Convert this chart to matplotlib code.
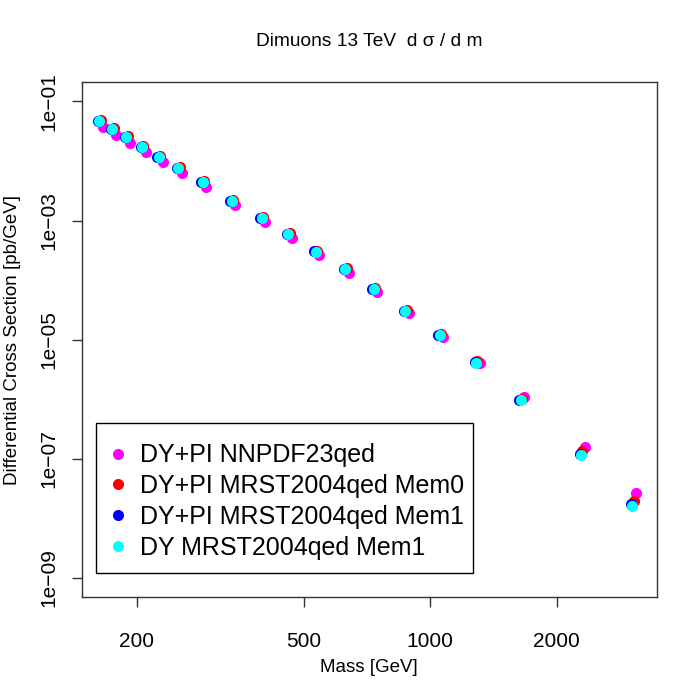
import numpy as np
import matplotlib
matplotlib.use('Agg')
import matplotlib.pyplot as plt
from matplotlib.patches import Rectangle

plt.rcParams['font.family'] = ['Liberation Sans', 'DejaVu Sans']

# bin centres in GeV
mass = [163, 175, 189, 206, 226, 251, 287, 337, 397, 459, 534, 627, 734,
        872, 1054, 1285, 1641, 2285, 3027]

# d sigma / d m  [pb/GeV]
nnpdf = [3.75e-2, 2.76e-2, 2.03e-2, 1.41e-2, 9.58e-3, 6.19e-3, 3.61e-3,
         1.84e-3, 9.32e-4, 5.09e-4, 2.60e-4, 1.30e-4, 6.23e-5, 2.77e-5,
         1.13e-5, 4.00e-6, 1.08e-6, 1.57e-7, 2.71e-8]
mem0 = [4.86e-2, 3.53e-2, 2.59e-2, 1.80e-2, 1.22e-2, 7.81e-3, 4.56e-3,
        2.24e-3, 1.14e-3, 6.18e-4, 3.12e-4, 1.58e-4, 7.30e-5, 3.16e-5,
        1.24e-5, 4.32e-6, 1.03e-6, 1.33e-7, 1.97e-8]
mem1 = [4.70e-2, 3.41e-2, 2.50e-2, 1.74e-2, 1.18e-2, 7.55e-3, 4.40e-3,
        2.16e-3, 1.11e-3, 5.98e-4, 3.02e-4, 1.53e-4, 7.06e-5, 3.06e-5,
        1.20e-5, 4.16e-6, 9.90e-7, 1.20e-7, 1.75e-8]
dy_mem1 = [4.67e-2, 3.39e-2, 2.49e-2, 1.73e-2, 1.18e-2, 7.51e-3, 4.38e-3,
           2.15e-3, 1.10e-3, 5.94e-4, 3.00e-4, 1.52e-4, 7.00e-5, 3.03e-5,
           1.19e-5, 4.11e-6, 9.73e-7, 1.15e-7, 1.64e-8]

labels = ['DY+PI NNPDF23qed', 'DY+PI MRST2004qed Mem0',
          'DY+PI MRST2004qed Mem1', 'DY MRST2004qed Mem1']
colors = ['#ff00ff', '#ff0000', '#0000ff', '#00ffff']
shift = [1.02, 1.008, 0.992, 1.0]   # small x offsets so points don't hide

xticks = [200, 500, 1000, 2000]
yticks = [1e-1, 1e-3, 1e-5, 1e-7, 1e-9]
ytick_labels = ['1e\u221201', '1e\u221203', '1e\u221205', '1e\u221207', '1e\u221209']

fig = plt.figure(figsize=(7, 7), dpi=100)
ax = fig.add_axes([0.1167, 0.1471, 0.8219, 0.7353])

m = np.array(mass)
for ys, c, lab, s in zip([nnpdf, mem0, mem1, dy_mem1], colors, labels, shift):
    ax.plot(m * s, ys, 'o', color=c, ms=8, mec='none', label=lab)

ax.set_xscale('log')
ax.set_yscale('log')
ax.set_xlim(148, 3466)
ax.set_ylim(4.8e-10, 0.2085)
ax.set_xticks(xticks)
ax.set_xticklabels([str(t) for t in xticks])
ax.set_yticks(yticks)
ax.set_yticklabels(ytick_labels, rotation=90, va='center')
ax.minorticks_off()
ax.tick_params(axis='both', direction='out', length=7, width=1, labelsize=15, color='#333333')
ax.tick_params(axis='x', pad=18)
ax.tick_params(axis='y', pad=10)
for sp in ax.spines.values():
    sp.set_color('#333333')
    sp.set_linewidth(1)

ax.set_xlabel('Mass [GeV]', fontsize=13.5, labelpad=6)
ax.set_ylabel('Differential Cross Section [pb/GeV]', fontsize=13.5, labelpad=13)
fig.text(0.527, 0.94, 'Dimuons 13 TeV  d \u03c3 / d m', ha='center', va='center', fontsize=13.8)

# legend box drawn by hand (R style: tight right padding)
ax.add_patch(Rectangle((0.0249, 0.0466), 0.6553, 0.2914, transform=ax.transAxes,
                       facecolor='white', edgecolor='black', lw=1, zorder=4))
leg = ax.legend(loc='center left', bbox_to_anchor=(0.042, 0.1855), borderaxespad=0,
                fontsize=18, frameon=False, borderpad=0,
                handletextpad=0.36, labelspacing=0.27, handlelength=1.0)
leg.set_zorder(5)

fig.savefig('out.png', dpi=100)
